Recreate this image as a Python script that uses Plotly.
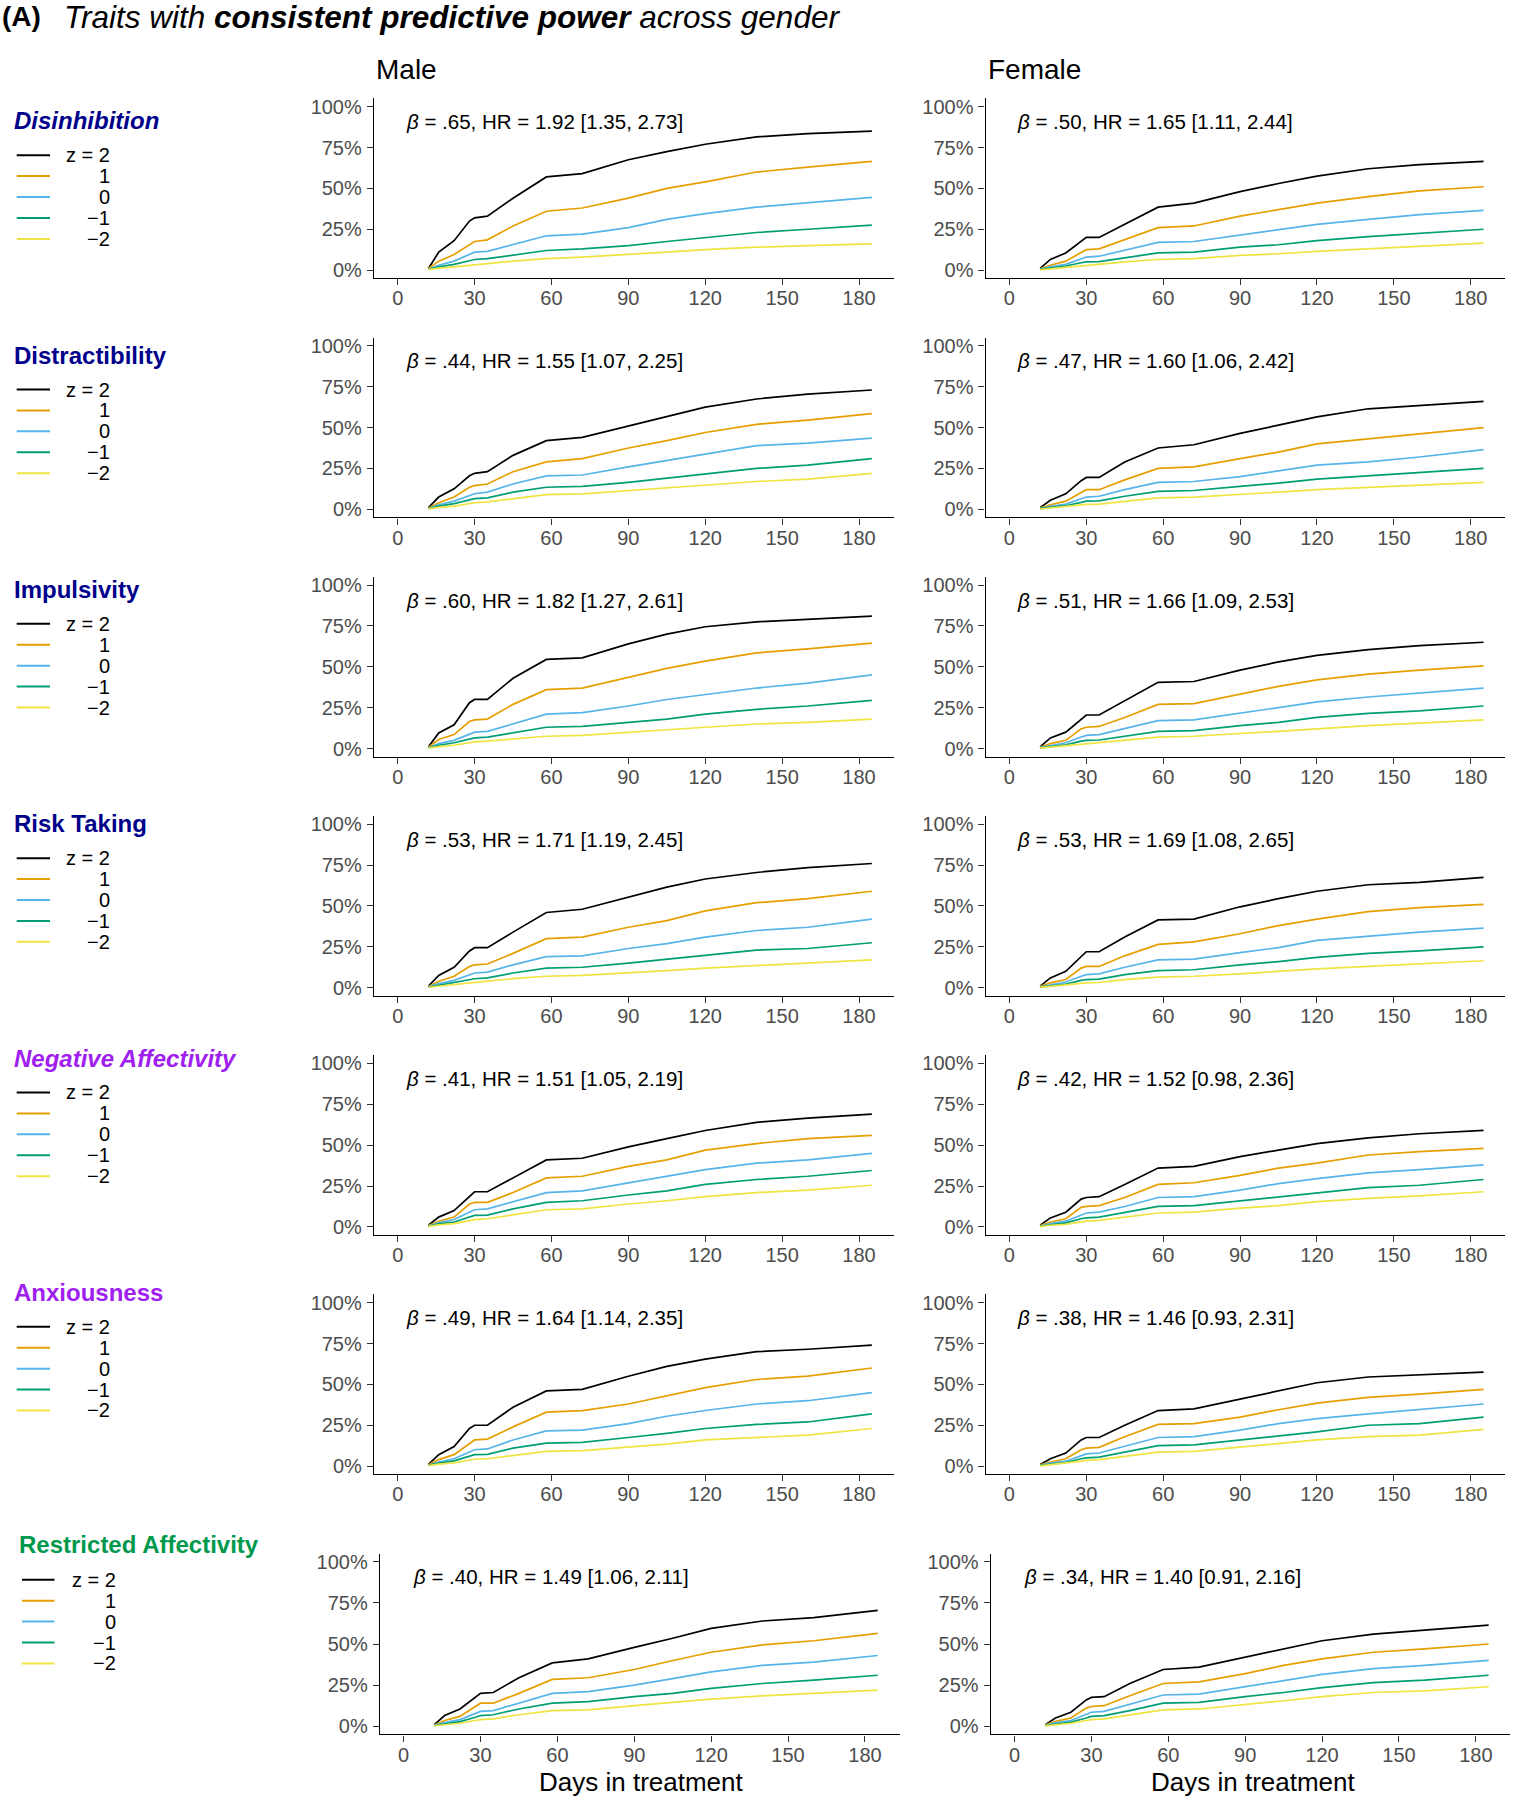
import plotly.graph_objects as go

# ---------------- data ----------------
days = [12, 16, 22, 28, 30, 35, 45, 58, 72, 90, 105, 120, 140, 160, 185]
z_labels = ["z = 2", "1", "0", "\u22121", "\u22122"]
line_colors = ["#000000", "#E69F00", "#56B4E9", "#009E73", "#F0E442"]
x_ticks = [0, 30, 60, 90, 120, 150, 180]
y_ticks = [0, 0.25, 0.5, 0.75, 1.0]
y_ticktext = ["0%", "25%", "50%", "75%", "100%"]

traits = ["Disinhibition", "Distractibility", "Impulsivity", "Risk Taking",
          "Negative Affectivity", "Anxiousness", "Restricted Affectivity"]
trait_colors = ["#00008B", "#00008B", "#00008B", "#00008B", "#A020F0", "#A020F0", "#00994C"]
trait_italic = [True, False, False, False, True, False, False]

stats_male = [".65, HR = 1.92 [1.35, 2.73]", ".44, HR = 1.55 [1.07, 2.25]",
              ".60, HR = 1.82 [1.27, 2.61]", ".53, HR = 1.71 [1.19, 2.45]",
              ".41, HR = 1.51 [1.05, 2.19]", ".49, HR = 1.64 [1.14, 2.35]",
              ".40, HR = 1.49 [1.06, 2.11]"]
stats_female = [".50, HR = 1.65 [1.11, 2.44]", ".47, HR = 1.60 [1.06, 2.42]",
                ".51, HR = 1.66 [1.09, 2.53]", ".53, HR = 1.69 [1.08, 2.65]",
                ".42, HR = 1.52 [0.98, 2.36]", ".38, HR = 1.46 [0.93, 2.31]",
                ".34, HR = 1.40 [0.91, 2.16]"]

# each panel: curves for z = 2, 1, 0, -1, -2
dis_m = [[.01, .11, .18, .30, .32, .33, .44, .57, .59, .675, .725, .77, .815, .835, .85],
         [.01, .055, .095, .155, .175, .185, .27, .36, .38, .44, .50, .54, .60, .63, .665],
         [.005, .03, .055, .095, .11, .115, .155, .21, .22, .26, .31, .345, .385, .41, .445],
         [.005, .02, .035, .055, .065, .07, .09, .12, .13, .15, .175, .20, .23, .25, .275],
         [.003, .012, .02, .03, .035, .04, .055, .07, .08, .095, .11, .125, .14, .15, .16]]
dist_m = [[.01, .075, .125, .205, .22, .23, .33, .42, .44, .51, .57, .625, .675, .705, .73],
          [.008, .04, .075, .135, .145, .155, .23, .29, .31, .375, .42, .47, .52, .545, .585],
          [.005, .028, .05, .085, .095, .105, .155, .205, .21, .26, .30, .34, .39, .405, .435],
          [.004, .02, .035, .06, .065, .07, .105, .135, .14, .165, .19, .215, .25, .27, .31],
          [.003, .012, .02, .035, .04, .045, .065, .09, .095, .115, .13, .15, .17, .185, .22]]
imp_m = [[.01, .095, .145, .28, .30, .30, .43, .545, .555, .64, .70, .745, .775, .79, .81],
         [.008, .055, .085, .165, .175, .18, .27, .36, .37, .435, .49, .535, .585, .61, .645],
         [.005, .03, .05, .09, .10, .105, .15, .21, .22, .26, .30, .33, .37, .40, .45],
         [.004, .02, .035, .06, .065, .07, .095, .13, .135, .16, .18, .21, .24, .26, .295],
         [.003, .012, .02, .035, .04, .045, .06, .075, .08, .10, .115, .13, .15, .16, .18]]
risk_m = [[.01, .075, .125, .225, .245, .245, .34, .46, .48, .555, .615, .665, .705, .735, .76],
          [.008, .04, .07, .13, .14, .145, .21, .30, .31, .37, .41, .47, .52, .545, .59],
          [.005, .025, .045, .08, .09, .095, .14, .19, .195, .24, .27, .31, .35, .37, .42],
          [.004, .015, .03, .05, .055, .06, .09, .12, .125, .15, .175, .20, .23, .24, .275],
          [.003, .01, .018, .03, .035, .04, .055, .07, .075, .09, .105, .12, .135, .15, .17]]
neg_m = [[.01, .06, .10, .19, .215, .215, .30, .41, .42, .49, .54, .59, .64, .665, .69],
         [.008, .035, .06, .14, .15, .15, .21, .30, .31, .37, .41, .47, .51, .54, .56],
         [.005, .025, .045, .09, .105, .11, .155, .21, .22, .27, .31, .35, .39, .41, .45],
         [.004, .018, .03, .06, .07, .072, .11, .15, .16, .195, .22, .26, .29, .31, .345],
         [.003, .012, .02, .04, .045, .05, .075, .105, .11, .14, .16, .185, .21, .225, .255]]
anx_m = [[.01, .07, .12, .23, .25, .25, .36, .46, .47, .55, .61, .655, .70, .715, .74],
         [.008, .04, .07, .14, .16, .165, .24, .33, .34, .38, .43, .48, .53, .55, .60],
         [.005, .025, .045, .09, .10, .105, .16, .215, .22, .26, .305, .34, .38, .40, .45],
         [.004, .018, .032, .06, .07, .072, .11, .14, .145, .175, .20, .23, .255, .27, .32],
         [.003, .012, .02, .038, .042, .045, .065, .09, .095, .115, .135, .16, .175, .19, .23]]
res_m = [[.01, .065, .105, .175, .20, .205, .295, .385, .41, .48, .535, .595, .64, .66, .705],
         [.008, .035, .06, .12, .14, .14, .20, .285, .295, .345, .40, .45, .495, .52, .565],
         [.005, .022, .04, .08, .09, .095, .14, .20, .21, .25, .29, .33, .37, .39, .43],
         [.004, .015, .028, .055, .065, .07, .105, .14, .15, .18, .20, .23, .26, .28, .31],
         [.003, .01, .018, .035, .04, .045, .07, .095, .10, .125, .145, .165, .185, .20, .22]]

dis_f = [[.01, .065, .105, .175, .20, .20, .28, .385, .41, .48, .53, .575, .62, .645, .665],
         [.008, .03, .055, .11, .125, .13, .185, .26, .27, .33, .37, .41, .45, .485, .51],
         [.005, .02, .035, .07, .08, .085, .12, .17, .175, .215, .245, .28, .31, .34, .365],
         [.004, .012, .025, .045, .05, .052, .075, .105, .11, .14, .155, .18, .205, .225, .25],
         [.002, .008, .015, .025, .03, .035, .05, .065, .07, .09, .10, .115, .13, .145, .165]]
dist_f = [[.01, .055, .095, .175, .195, .195, .29, .375, .395, .465, .515, .565, .615, .635, .66],
          [.008, .028, .05, .10, .12, .12, .18, .25, .26, .31, .35, .40, .43, .46, .50],
          [.005, .018, .032, .065, .075, .08, .12, .165, .17, .20, .235, .27, .29, .32, .365],
          [.004, .012, .022, .042, .05, .052, .08, .11, .115, .14, .16, .185, .205, .225, .25],
          [.002, .008, .014, .025, .03, .032, .05, .07, .075, .09, .105, .12, .135, .15, .165]]
imp_f = [[.01, .065, .10, .18, .205, .205, .29, .405, .41, .48, .53, .57, .605, .63, .65],
         [.008, .03, .05, .12, .13, .135, .19, .27, .275, .33, .38, .42, .455, .48, .505],
         [.005, .018, .035, .07, .08, .085, .12, .17, .175, .215, .25, .285, .315, .34, .37],
         [.004, .012, .022, .045, .05, .052, .075, .105, .11, .14, .16, .19, .215, .23, .26],
         [.002, .008, .014, .025, .03, .035, .05, .07, .075, .09, .105, .12, .14, .155, .175]]
risk_f = [[.01, .06, .10, .19, .22, .22, .31, .415, .42, .495, .545, .59, .63, .645, .675],
          [.008, .03, .05, .12, .13, .13, .195, .265, .28, .33, .38, .42, .465, .49, .51],
          [.005, .018, .035, .07, .08, .085, .125, .17, .175, .215, .245, .29, .315, .34, .365],
          [.004, .012, .022, .045, .05, .052, .08, .105, .11, .14, .16, .185, .21, .225, .25],
          [.002, .008, .014, .025, .03, .032, .05, .065, .07, .085, .10, .115, .13, .145, .165]]
neg_f = [[.01, .055, .09, .17, .18, .185, .26, .36, .37, .43, .47, .51, .545, .57, .59],
         [.008, .03, .05, .12, .125, .13, .18, .26, .27, .315, .36, .39, .44, .46, .48],
         [.005, .02, .035, .075, .085, .09, .125, .18, .185, .225, .265, .295, .33, .35, .38],
         [.004, .014, .025, .05, .055, .06, .09, .125, .13, .16, .185, .21, .24, .255, .29],
         [.002, .01, .016, .03, .035, .04, .06, .085, .09, .115, .13, .155, .175, .19, .215]]
anx_f = [[.01, .045, .08, .16, .175, .175, .25, .34, .35, .41, .46, .51, .545, .56, .575],
         [.008, .025, .045, .10, .11, .115, .18, .255, .26, .30, .345, .385, .42, .44, .47],
         [.005, .018, .03, .065, .075, .08, .12, .175, .18, .22, .26, .29, .32, .345, .38],
         [.004, .013, .022, .045, .05, .055, .085, .125, .13, .16, .185, .21, .25, .26, .30],
         [.002, .009, .016, .03, .035, .04, .06, .085, .09, .115, .135, .16, .18, .19, .225]]
res_f = [[.01, .05, .085, .16, .175, .18, .26, .345, .36, .42, .47, .52, .56, .585, .615],
         [.008, .03, .05, .11, .12, .125, .185, .26, .27, .32, .37, .41, .45, .47, .50],
         [.005, .02, .035, .075, .085, .09, .135, .19, .195, .24, .28, .315, .35, .37, .40],
         [.004, .014, .025, .05, .06, .065, .095, .14, .145, .18, .205, .235, .265, .28, .31],
         [.002, .01, .018, .035, .04, .045, .07, .10, .105, .13, .155, .18, .205, .215, .24]]

male_panels = [dis_m, dist_m, imp_m, risk_m, neg_m, anx_m, res_m]
female_panels = [dis_f, dist_f, imp_f, risk_f, neg_f, anx_f, res_f]

# ---------------- layout helpers (pixel positions) ----------------
W, H = 1514, 1800
FONT = "Liberation Sans, Arial, sans-serif"
XR = [-9.25, 193.5]
YR = [-0.05, 1.05]
PPD = 2.563


def px(x):
    return x / W


def py(y):
    return 1 - y / H


def row_geom(r):
    if r < 6:
        y100 = 104.0 + 240 * r
        y0 = 268.0 + 240 * r
        xm, xf = 397.7, 1009.4
    else:
        y100, y0 = 1564.0, 1729.0
        xm, xf = 403.6, 1014.5
    return y100, y0, xm, xf


fig = go.Figure()
annotations = []
shapes = []

panel = 0
for r in range(7):
    y100, y0, xm, xf = row_geom(r)
    unit = y0 - y100
    top = y100 - 0.05 * unit
    bot = y0 + 0.05 * unit
    for c, (x0, curves, stat) in enumerate([(xm, male_panels[r], stats_male[r]),
                                            (xf, female_panels[r], stats_female[r])]):
        panel += 1
        xa = "x" if panel == 1 else f"x{panel}"
        ya = "y" if panel == 1 else f"y{panel}"
        left = x0 + XR[0] * PPD
        right = x0 + XR[1] * PPD
        for k in range(5):
            fig.add_trace(go.Scatter(x=days, y=curves[k], mode="lines",
                                     line=dict(color=line_colors[k], width=1.7),
                                     xaxis=xa, yaxis=ya, showlegend=False,
                                     hoverinfo="skip"))
        axis_common = dict(showline=True, linecolor="black", linewidth=1.4,
                           ticks="outside", ticklen=6, tickwidth=1.3, tickcolor="#333333",
                           showgrid=False, zeroline=False,
                           tickfont=dict(family=FONT, size=20, color="#4D4D4D"))
        fig.layout["xaxis" if panel == 1 else f"xaxis{panel}"] = dict(
            domain=[px(left), px(right)], range=XR, anchor=ya,
            tickvals=x_ticks, ticklabelstandoff=-4, **axis_common)
        fig.layout["yaxis" if panel == 1 else f"yaxis{panel}"] = dict(
            domain=[py(bot), py(top)], range=YR, anchor=xa,
            tickvals=y_ticks, ticktext=y_ticktext, ticklabelstandoff=1, **axis_common)
        annotations.append(dict(
            xref="paper", yref="paper", x=px(x0 + (7 if r == 6 else 6)), y=py(y100 + 15),
            xanchor="left", yanchor="middle", showarrow=False,
            text="<i>\u03b2</i> = " + stat,
            font=dict(family=FONT, size=20.5, color="black")))

    # trait label and legend
    if r < 6:
        ty = 118.2 + 235.1 * r
        tx = 12
        ly0 = 152.7 + 235.1 * r
        lx0, lx1, txr = 16.7, 50, 112.3
    else:
        ty, tx = 1547, 17
        ly0 = 1582
        lx0, lx1, txr = 22, 54.5, 117.7
    label = f"<b>{traits[r]}</b>"
    if trait_italic[r]:
        label = f"<i>{label}</i>"
    annotations.append(dict(xref="paper", yref="paper", x=px(tx), y=py(ty),
                            xanchor="left", yanchor="middle", showarrow=False,
                            text=label, font=dict(family=FONT, size=24, color=trait_colors[r])))
    for k in range(5):
        yy = ly0 + 21 * k
        shapes.append(dict(type="line", xref="paper", yref="paper",
                           x0=px(lx0), x1=px(lx1), y0=py(yy), y1=py(yy),
                           line=dict(color=line_colors[k], width=2)))
        annotations.append(dict(xref="paper", yref="paper", x=px(txr), y=py(yy),
                                xanchor="right", yanchor="middle", showarrow=False,
                                text=z_labels[k], font=dict(family=FONT, size=20, color="black")))

# title and column headers
annotations.append(dict(xref="paper", yref="paper", x=px(0), y=py(14),
                        xanchor="left", yanchor="middle", showarrow=False,
                        text="<b>(A)</b>", font=dict(family=FONT, size=28, color="black")))
annotations.append(dict(xref="paper", yref="paper", x=px(62), y=py(14),
                        xanchor="left", yanchor="middle", showarrow=False,
                        text="<i>Traits with <b>consistent predictive power</b> across gender</i>",
                        font=dict(family=FONT, size=31.5, color="black")))
annotations.append(dict(xref="paper", yref="paper", x=px(374), y=py(67),
                        xanchor="left", yanchor="middle", showarrow=False,
                        text="Male", font=dict(family=FONT, size=28, color="black")))
annotations.append(dict(xref="paper", yref="paper", x=px(986), y=py(67),
                        xanchor="left", yanchor="middle", showarrow=False,
                        text="Female", font=dict(family=FONT, size=28, color="black")))
for cx in (641, 1253):
    annotations.append(dict(xref="paper", yref="paper", x=px(cx), y=py(1785),
                            xanchor="center", yanchor="middle", showarrow=False,
                            text="Days in treatment", font=dict(family=FONT, size=26, color="black")))

fig.update_layout(width=W, height=H, margin=dict(l=0, r=0, t=0, b=0),
                  paper_bgcolor="white", plot_bgcolor="white",
                  annotations=annotations, shapes=shapes,
                  font=dict(family=FONT))

fig.write_html("out.html", config={"displayModeBar": False},
               post_script="document.body.style.margin='0';document.body.style.overflow='hidden';")
